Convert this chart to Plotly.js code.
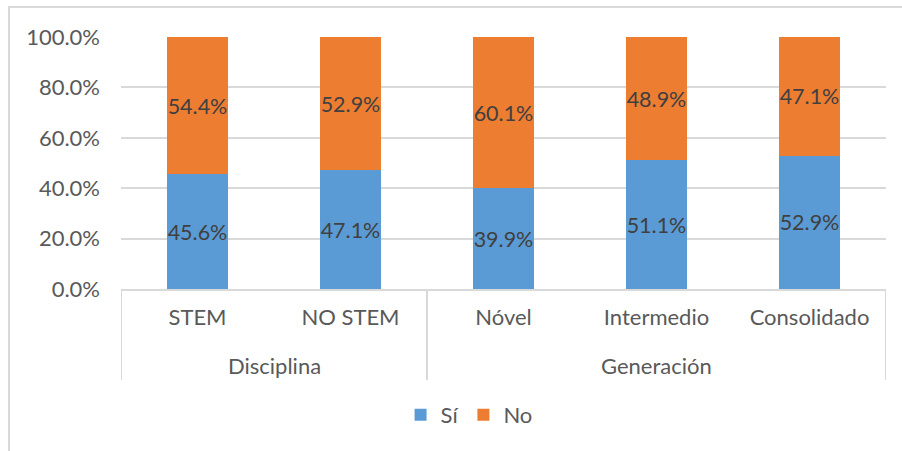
<!DOCTYPE html>
<html>
<head>
<meta charset="utf-8">
<script src="https://cdn.plot.ly/plotly-3.0.1.min.js"></script>
<style>
  body { margin: 0; padding: 0; background: #fff; }
  #wrap { position: relative; width: 902px; height: 451px; overflow: hidden; }
  #chart { width: 902px; height: 451px; }
  #frame { position: absolute; left: 8px; top: 6px; width: 1000px; height: 1000px;
           border-left: 2px solid #D9D9D9; border-top: 2px solid #D9D9D9; pointer-events: none; }
</style>
</head>
<body>
<div id="wrap">
  <div id="chart"></div>
  <div id="frame"></div>
</div>
<script>
var groups = ["Disciplina", "Disciplina", "Generación", "Generación", "Generación"];
var categories = ["STEM", "NO STEM", "Nóvel", "Intermedio", "Consolidado"];
var siValues = [0.456, 0.471, 0.399, 0.511, 0.529];
var noValues = [0.544, 0.529, 0.601, 0.489, 0.471];
var tickVals = [0, 0.2, 0.4, 0.6, 0.8, 1.0];
var tickText = ["0.0%", "20.0%", "40.0%", "60.0%", "80.0%", "100.0%"];

var fontFam = "Lato, 'Open Sans', sans-serif";
var FS = 22;
var FS_VAL = 21.5;
function fmt(v) { return (v * 100).toFixed(1) + "%"; }

var traces = [
  {
    type: "bar", name: "Sí", x: categories, y: siValues,
    marker: { color: "#5B9BD5" },
    text: siValues.map(fmt), textposition: "inside", insidetextanchor: "middle",
    constraintext: "none", textangle: 0,
    textfont: { family: fontFam, size: FS_VAL, color: "#404040" },
    hoverinfo: "skip"
  },
  {
    type: "bar", name: "No", x: categories, y: noValues,
    marker: { color: "#ED7D31" },
    text: noValues.map(fmt), textposition: "inside", insidetextanchor: "middle",
    constraintext: "none", textangle: 0,
    textfont: { family: fontFam, size: FS_VAL, color: "#404040" },
    hoverinfo: "skip"
  }
];

// group spans derived from the groups array
var spans = [];
groups.forEach(function (g, i) {
  if (!spans.length || spans[spans.length - 1].name !== g) spans.push({ name: g, first: i, last: i });
  else spans[spans.length - 1].last = i;
});

var shapes = [];
var annotations = [];
var divBottom = -0.361;
spans.forEach(function (s, k) {
  if (k === 0) {
    shapes.push({ type: "line", xref: "x", yref: "paper", x0: s.first - 0.5, x1: s.first - 0.5,
      y0: 0, y1: divBottom, line: { color: "#D9D9D9", width: 2 } });
  }
  shapes.push({ type: "line", xref: "x", yref: "paper", x0: s.last + 0.5, x1: s.last + 0.5,
    y0: 0, y1: divBottom, line: { color: "#D9D9D9", width: 2 } });
  annotations.push({ xref: "x", yref: "paper", x: (s.first + s.last) / 2, y: -0.302,
    yanchor: "middle", xanchor: "center", showarrow: false, text: s.name,
    font: { family: fontFam, size: FS, color: "#595959" } });
});

var layout = {
  width: 902, height: 451,
  barmode: "stack", bargap: 0.6,
  paper_bgcolor: "#fff", plot_bgcolor: "#fff",
  margin: { l: 121, r: 16, t: 37, b: 162 },
  font: { family: fontFam, size: FS, color: "#595959" },
  xaxis: {
    type: "category", range: [-0.5, categories.length - 0.5],
    showline: true, linecolor: "#D9D9D9", linewidth: 2,
    showgrid: false, ticks: "", ticklabelstandoff: 8,
    tickfont: { family: fontFam, size: FS, color: "#595959" }
  },
  yaxis: {
    range: [0, 1], tickvals: tickVals, ticktext: tickText,
    showgrid: true, gridcolor: "#D9D9D9", gridwidth: 2,
    zeroline: false, showline: false, ticks: "",
    tickfont: { family: fontFam, size: FS, color: "#595959" },
    ticklabelstandoff: 20
  },
  shapes: shapes,
  annotations: annotations,
  legend: {
    orientation: "h", x: 0.455, xanchor: "center", y: -0.50, yanchor: "middle",
    font: { family: fontFam, size: FS, color: "#595959" },
    itemwidth: 30, traceorder: "normal"
  },
  showlegend: true
};

Plotly.newPlot("chart", traces, layout, { displayModeBar: false, staticPlot: true });
</script>
</body>
</html>
